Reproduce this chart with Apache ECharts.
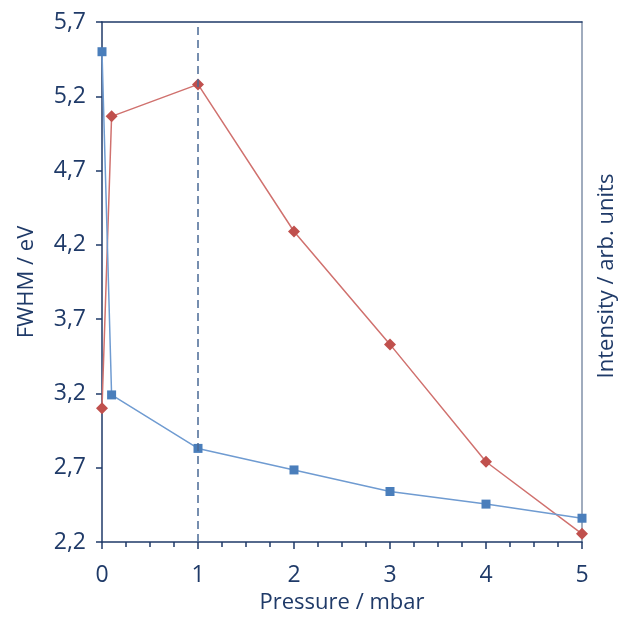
<!DOCTYPE html>
<html>
<head>
<meta charset="utf-8">
<script src="https://cdn.jsdelivr.net/npm/echarts@6/dist/echarts.min.js"></script>
<style>html,body{margin:0;padding:0;background:#fff}#c{width:631px;height:617px}</style>
</head>
<body>
<div id="c"></div>
<script>
const pressure = [0, 0.1, 1, 2, 3, 4, 5];
const fwhm = [5.50, 3.19, 2.83, 2.685, 2.54, 2.455, 2.36];
const intensity = [3.10, 5.065, 5.28, 4.29, 3.53, 2.74, 2.255];
const markerPressure = 1;

const navy = '#1f3a68';
const chart = echarts.init(document.getElementById('c'));
const fmt = v => (Math.round(v * 10) / 10).toFixed(1).replace('.', ',');
chart.setOption({
  animation: false,
  textStyle: { fontFamily: 'Open Sans' },
  grid: { left: 102, right: 49, top: 22, bottom: 75, containLabel: false, outerBoundsMode: 'none' },
  xAxis: [{
    type: 'value', min: 0, max: 5, interval: 1,
    name: 'Pressure / mbar', nameLocation: 'middle', nameGap: 50,
    nameTextStyle: { color: navy, fontSize: 22 },
    axisLine: { onZero: false, lineStyle: { color: navy, width: 1.5 } },
    axisTick: { show: true, length: 7, lineStyle: { color: navy, width: 1.5 } },
    minorTick: { show: true, splitNumber: 4, length: 5, lineStyle: { color: navy, width: 1.5 } },
    axisLabel: { color: navy, fontSize: 23, margin: 22 },
    splitLine: { show: false }
  }, {
    type: 'value', min: 0, max: 5, position: 'top',
    axisLine: { show: true, onZero: false, lineStyle: { color: navy, width: 1.5 } },
    axisTick: { show: false }, axisLabel: { show: false }, splitLine: { show: false }
  }],
  yAxis: [{
    type: 'value', min: 2.2, max: 5.7, interval: 0.5,
    name: 'FWHM / eV', nameLocation: 'middle', nameGap: 64, nameRotate: 90,
    nameTextStyle: { color: navy, fontSize: 22 },
    axisLine: { show: true, onZero: false, lineStyle: { color: navy, width: 1.5 } },
    axisTick: { show: true, length: 6, lineStyle: { color: navy, width: 1.5 } },
    axisLabel: { color: navy, fontSize: 23, margin: 16, formatter: fmt },
    splitLine: { show: false }
  }, {
    type: 'value', min: 2.2, max: 5.7, position: 'right',
    name: 'Intensity / arb. units', nameLocation: 'middle', nameGap: 14, nameRotate: 90,
    nameTextStyle: { color: navy, fontSize: 22, padding: [0, 0, 0, 12] },
    axisLine: { show: true, onZero: false, lineStyle: { color: '#8091a8', width: 1.5 } },
    axisTick: { show: false }, axisLabel: { show: false }, splitLine: { show: false }
  }],
  series: [{
    type: 'line', name: 'Intensity', yAxisIndex: 1,
    data: pressure.map((p, i) => [p, intensity[i]]),
    symbol: 'diamond', symbolSize: 12,
    lineStyle: { color: '#d0716e', width: 1.5 },
    itemStyle: { color: '#c0504d' },
    z: 3,
    markLine: {
      silent: true, symbol: 'none', label: { show: false },
      lineStyle: { color: '#4a6a95', type: [8, 5], width: 1.5 },
      data: [{ xAxis: markerPressure }]
    }
  }, {
    type: 'line', name: 'FWHM', yAxisIndex: 0,
    data: pressure.map((p, i) => [p, fwhm[i]]),
    symbol: 'rect', symbolSize: 9,
    lineStyle: { color: '#6f9bd1', width: 1.5 },
    itemStyle: { color: '#4a7ebb' },
    z: 4
  }]
});
</script>
</body>
</html>
